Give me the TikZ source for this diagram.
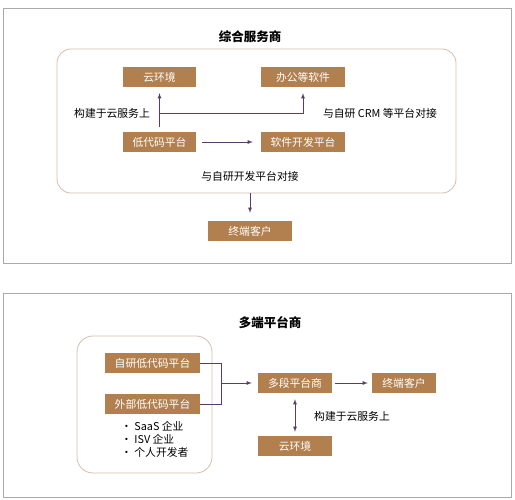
\documentclass[tikz,border=0pt]{standalone}
\usepackage{fontspec}
\setmainfont{Noto Sans CJK SC}
\usetikzlibrary{calc,shapes,arrows}
\definecolor{Box}{RGB}{178,128,78}
\definecolor{Link}{RGB}{88,60,110}
\definecolor{Panel}{RGB}{170,170,170}
\definecolor{Group}{RGB}{210,192,172}

\begin{document}
\begin{tikzpicture}[x=1pt, y=-1pt]
			\tikzstyle{every node}=[inner sep = 0pt, font = \fontsize{10.8}{13}\selectfont];
			\tikzstyle{box}=[fill=Box, text=white, minimum height = 20pt];
			\tikzstyle{link}=[draw=Link, line width = 0.8pt];
			\tikzstyle{title}=[font = \fontsize{12.5}{14}\selectfont\bfseries];
			\useasboundingbox (0, 0) rectangle (515, 500);
			% upper panel
			\draw [Panel, line width = 0.8pt] (3, 8) rectangle (511, 263);
			\node [title] (title1) at (250, 37) {综合服务商};
			\draw [Group, line width = 0.8pt, rounded corners = 14pt] (57, 49) rectangle (456, 193);
			\node [box, minimum width = 73pt] (cloud1) at (159.5, 77) {云环境};
			\node [box, minimum width = 84pt] (office) at (303, 77) {办公等软件};
			\node [box, minimum width = 73pt] (lowcode) at (159.5, 142) {低代码平台};
			\node [box, minimum width = 84pt] (devplat) at (303, 142) {软件开发平台};
			\node [box, minimum width = 84pt] (client1) at (250, 231) {终端客户};
			\coordinate (fork) at (159.5, 113);
			\coordinate (drop) at (250, 193);
			\draw [link, -latex, shorten <= 5pt, shorten >= 6pt] (lowcode.north) -- (cloud1.south);
			\draw [link, -latex, shorten >= 6pt] (fork) -| (office.south);
			\draw [link, -latex, shorten <= 6pt, shorten >= 8pt] (lowcode.east) -- (devplat.west);
			\draw [link, -latex, shorten >= 8pt] (drop) -- (client1.north);
			\node (cloudnote1) at (112, 113) {构建于云服务上};
			\node (crmnote) at (380, 113) {与自研 CRM 等平台对接};
			\node (devnote) at (250, 176) {与自研开发平台对接};
			% lower panel
			\draw [Panel, line width = 0.8pt] (3, 293) rectangle (511, 497);
			\node [title] (title2) at (270, 323) {多端平台商};
			\draw [Group, line width = 0.8pt, rounded corners = 16pt] (77, 336) rectangle (212, 473);
			\node [box, minimum width = 95pt] (ownlc) at (152.5, 363) {自研低代码平台};
			\node [box, minimum width = 95pt] (extlc) at (152.5, 404) {外部低代码平台};
			\node [box, minimum width = 74pt] (multi) at (295, 383) {多段平台商};
			\node [box, minimum width = 64pt] (client2) at (404, 383) {终端客户};
			\node [box, minimum width = 74pt] (cloud2) at (295, 446) {云环境};
			\coordinate (join) at (221, 383);
			\draw [link] (ownlc.east) -- (join |- ownlc.east) -- (join |- extlc.east) -- (extlc.east);
			\draw [link, -latex, shorten >= 6pt] (join) -- (multi.west);
			\draw [link, -latex, shorten <= 3pt, shorten >= 4pt] (multi.east) -- (client2.west);
			\draw [link, latex-latex, shorten <= 6pt, shorten >= 4pt] (multi.south) -- (cloud2.north);
			\node (cloudnote2) at (352, 416) {构建于云服务上};
			\node [anchor = west, align = left] (vendors) at (121, 439) {· SaaS 企业\\· ISV 企业\\· 个人开发者};
		\end{tikzpicture}
\end{document}
